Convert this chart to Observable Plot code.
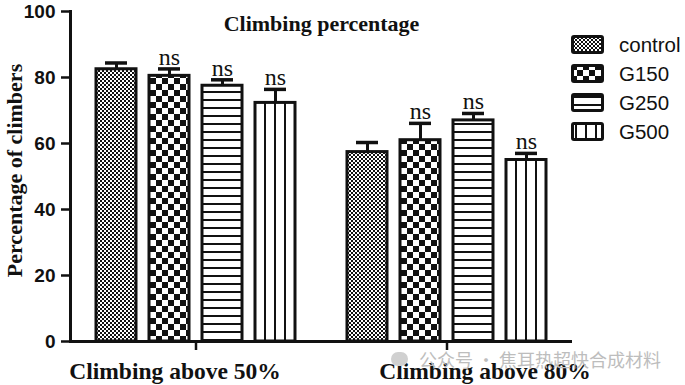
<!DOCTYPE html>
<html>
<head>
<meta charset="utf-8">
<script src="https://cdn.jsdelivr.net/npm/d3@7"></script>
<script src="https://cdn.jsdelivr.net/npm/@observablehq/plot@0.6"></script>
<style>
  body { margin: 0; background: #fff; }
  #wrap { position: relative; width: 685px; height: 385px; }
  #legend { position: absolute; left: 571px; top: 30px; font-family: "Liberation Sans", Arial, sans-serif; font-size: 20.5px; color: #111; }
  .row { display: flex; align-items: center; height: 29px; }
  .row svg { margin-right: 15px; }
  #wm { position: absolute; left: 391px; top: 346px; font-family: "Noto Sans CJK SC", sans-serif; font-size: 18px; color: #bdbdbd; display: flex; align-items: center; }
  #wm span.ic { display: inline-block; width: 17px; height: 14px; border-radius: 8px; background: #d0d0d0; margin-right: 11px; }
</style>
</head>
<body>
<div id="wrap"></div>
<script>
const groups = ["Climbing above 50%", "Climbing above 80%"];
const series = ["control", "G150", "G250", "G500"];
const above50 = [82.5, 80.5, 77.5, 72.3];
const above50Err = [1.9, 2.1, 1.8, 4.1];
const above80 = [57.4, 61.0, 67.0, 55.0];
const above80Err = [2.9, 5.1, 2.1, 2.0];
const sig = ["", "ns", "ns", "ns"];
const title = "Climbing percentage";
const yLabel = "Percentage of climbers";
const yTicks = [0, 20, 40, 60, 80, 100];
const watermark = "公众号 · 焦耳热超快合成材料";

const data = [];
[above50, above80].forEach((vals, gi) => {
  const errs = gi === 0 ? above50Err : above80Err;
  series.forEach((s, i) => data.push({group: groups[gi], series: s, value: vals[i], err: errs[i], sig: sig[i]}));
});

const patternIds = series.map(s => "pat-" + s);
const serif = "'Liberation Serif', 'Times New Roman', serif";
const narrow = "'Liberation Sans Narrow', 'Arial Narrow', 'Liberation Sans', Arial, sans-serif";

const chart = Plot.plot({
  width: 685,
  height: 385,
  marginLeft: 70,
  marginRight: 113,
  marginTop: 11,
  marginBottom: 44,
  style: {background: "transparent", color: "#111"},
  fx: {domain: groups, padding: 0, axis: null, label: null},
  x: {domain: series, paddingInner: 0.245, paddingOuter: 0.49, axis: null},
  y: {domain: [0, 100], axis: null},
  color: {domain: series, range: patternIds.map(id => `url(#${id})`)},
  marks: [
    Plot.barY(data, {fx: "group", x: "series", y: "value", fill: "series", stroke: "#111", strokeWidth: 3}),
    Plot.ruleX(data, {fx: "group", x: "series", y1: "value", y2: d => d.value + d.err, stroke: "#111", strokeWidth: 3}),
    Plot.tickY(data, {fx: "group", x: "series", y: d => d.value + d.err, stroke: "#111", strokeWidth: 3.5, insetLeft: 9, insetRight: 9}),
    Plot.text(data.filter(d => d.sig), {fx: "group", x: "series", y: d => d.value + d.err, text: "sig", lineAnchor: "bottom", dy: -4, fontFamily: serif, fontSize: 24, fill: "#111"}),
    Plot.ruleY([0], {stroke: "#111", strokeWidth: 3}),
    Plot.frame({anchor: "left", facetAnchor: "left", stroke: "#111", strokeWidth: 3}),
    Plot.axisY({ticks: yTicks, tickSize: 9, tickPadding: 6, tickFormat: d => d, fontFamily: narrow, fontWeight: "bold", fontSize: 19, strokeWidth: 2.5, label: null}),
    Plot.axisFx({anchor: "bottom", tickSize: 9, tickFormat: () => "", strokeWidth: 2.5, label: null}),
    Plot.text([groups[0]], {fx: d => d, frameAnchor: "bottom", lineAnchor: "top", dy: 21, dx: -21, fontFamily: serif, fontWeight: "bold", fontSize: 23.5, fill: "#111"}),
    Plot.text([groups[1]], {fx: d => d, frameAnchor: "bottom", lineAnchor: "top", dy: 21, dx: 38, fontFamily: serif, fontWeight: "bold", fontSize: 23.5, fill: "#111"}),
    Plot.text([title], {facet: "super", frameAnchor: "top", lineAnchor: "top", dy: 4, fontFamily: serif, fontWeight: "bold", fontSize: 22, fill: "#111"}),
    Plot.text([yLabel], {facet: "super", frameAnchor: "left", textAnchor: "middle", rotate: -90, dx: -56, dy: -6, fontFamily: serif, fontWeight: "bold", fontSize: 22, fill: "#111"})
  ]
});

// patterns
const defs = d3.select(chart).insert("defs", ":first-child");
function pat(id, w, h, draw) {
  const p = defs.append("pattern").attr("id", id).attr("patternUnits", "userSpaceOnUse").attr("width", w).attr("height", h);
  p.append("rect").attr("width", w).attr("height", h).attr("fill", "#fff");
  draw(p);
}
pat(patternIds[0], 4, 4, p => {
  p.append("rect").attr("x", 0).attr("y", 0).attr("width", 2).attr("height", 2).attr("fill", "#111");
  p.append("rect").attr("x", 2).attr("y", 2).attr("width", 2).attr("height", 2).attr("fill", "#111");
});
pat(patternIds[1], 12, 12, p => {
  p.append("rect").attr("x", 0).attr("y", 0).attr("width", 6).attr("height", 6).attr("fill", "#111");
  p.append("rect").attr("x", 6).attr("y", 6).attr("width", 6).attr("height", 6).attr("fill", "#111");
});
pat(patternIds[2], 8, 8, p => {
  p.append("rect").attr("x", 0).attr("y", 3).attr("width", 8).attr("height", 2).attr("fill", "#111");
});
pat(patternIds[3], 10, 10, p => {
  p.append("rect").attr("x", 4).attr("y", 0).attr("width", 2).attr("height", 10).attr("fill", "#111");
});

const wrap = document.getElementById("wrap");
wrap.appendChild(chart);

// legend
const legend = document.createElement("div");
legend.id = "legend";
series.forEach((s, i) => {
  const row = document.createElement("div");
  row.className = "row";
  const sw = d3.create("svg").attr("width", 33).attr("height", 19);
  sw.append("rect").attr("x", 1.5).attr("y", 1.5).attr("width", 30).attr("height", 16).attr("rx", 1.5)
    .attr("fill", `url(#${patternIds[i]})`).attr("stroke", "#111").attr("stroke-width", 3);
  row.appendChild(sw.node());
  const t = document.createElement("span");
  t.textContent = s;
  row.appendChild(t);
  legend.appendChild(row);
});
wrap.appendChild(legend);

const wm = document.createElement("div");
wm.id = "wm";
wm.innerHTML = `<span class="ic"></span><span></span>`;
wm.lastChild.textContent = watermark;
wrap.appendChild(wm);
</script>
</body>
</html>
